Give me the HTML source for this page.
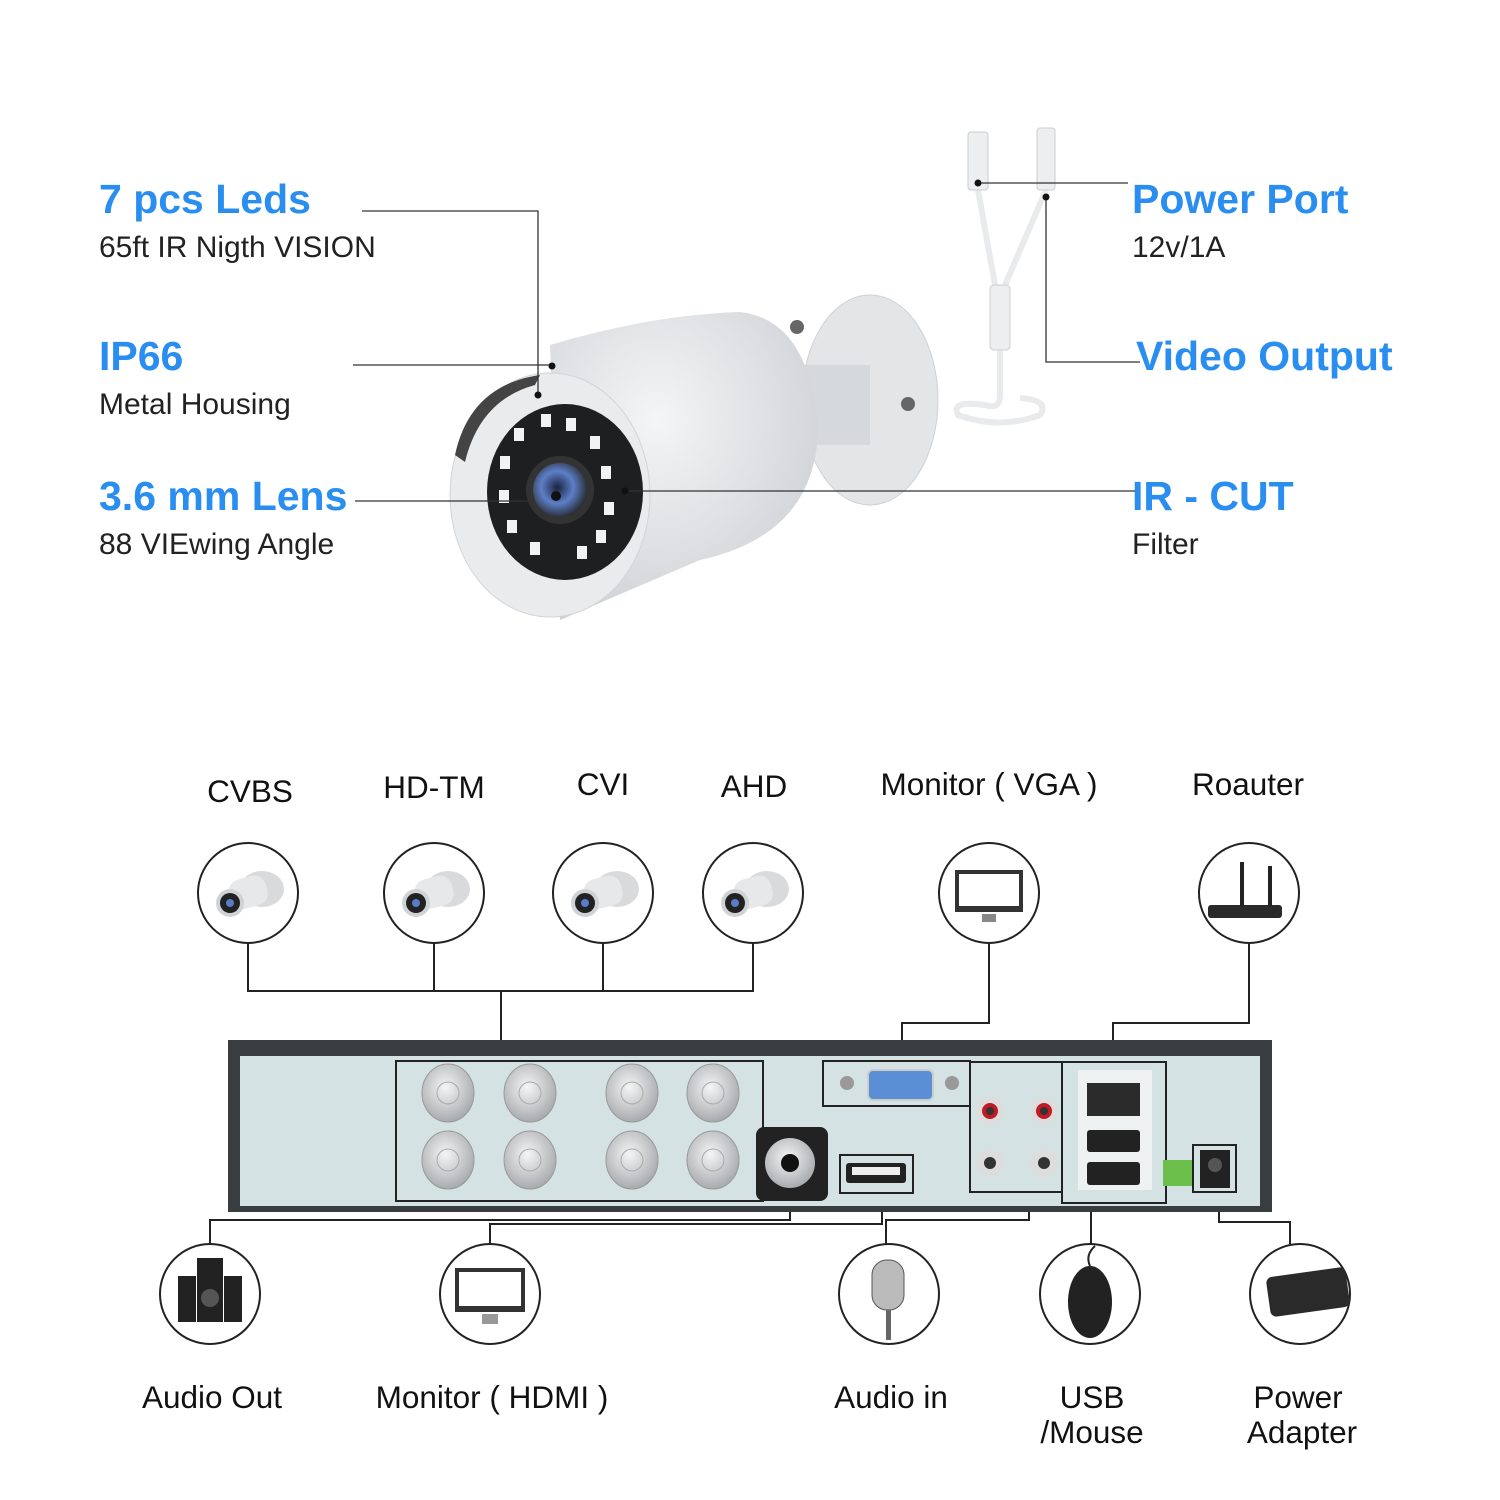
<!DOCTYPE html>
<html><head><meta charset="utf-8"><style>
html,body{margin:0;padding:0;background:#fff}
svg{display:block}
text{font-family:"Liberation Sans",Arial,sans-serif}
.h{fill:#2a8ef0;font-weight:bold;font-size:41px}
.s{fill:#222;font-size:30px}
.l{fill:#111;font-size:31.5px}
</style></head><body>
<svg width="1500" height="1500" viewBox="0 0 1500 1500" xmlns="http://www.w3.org/2000/svg">
<defs>
<radialGradient id="body" cx="0.4" cy="0.35" r="0.8"><stop offset="0" stop-color="#f4f5f6"/><stop offset="1" stop-color="#c9ccd0"/></radialGradient>
<radialGradient id="lens" cx="0.45" cy="0.45" r="0.6"><stop offset="0" stop-color="#1b2340"/><stop offset="0.5" stop-color="#5d7fc8"/><stop offset="1" stop-color="#222"/></radialGradient>
<radialGradient id="bnc" cx="0.45" cy="0.4" r="0.6"><stop offset="0" stop-color="#f5f5f5"/><stop offset="1" stop-color="#a8abae"/></radialGradient>
<g id="cam">
<ellipse cx="12" cy="-6" rx="22" ry="18" fill="#d8dadc"/>
<rect x="-20" y="-18" width="38" height="30" rx="12" fill="#e6e8ea" transform="rotate(-15)"/>
<circle cx="-20" cy="8" r="14" fill="#d0d3d6"/>
<circle cx="-20" cy="8" r="10" fill="#222"/>
<circle cx="-20" cy="8" r="4" fill="#5a7cc8"/>
</g>
</defs>

<text class="h" x="99" y="213">7 pcs Leds</text>
<text class="s" x="99" y="257">65ft IR Nigth VISION</text>
<text class="h" x="99" y="370">IP66</text>
<text class="s" x="99" y="414">Metal Housing</text>
<text class="h" x="99" y="510">3.6 mm Lens</text>
<text class="s" x="99" y="554">88 VIEwing Angle</text>
<text class="h" x="1132" y="213">Power Port</text>
<text class="s" x="1132" y="257">12v/1A</text>
<text class="h" x="1136" y="370">Video Output</text>
<text class="h" x="1132" y="510">IR - CUT</text>
<text class="s" x="1132" y="554">Filter</text>

<g fill="none" stroke="#e8eaec" stroke-width="6">
<path d="M978 190 L995 285 L1000 340 L1000 395 Q1000 410 985 405 Q950 400 958 415 Q1000 430 1040 415 Q1050 400 1020 398"/>
<path d="M1046 190 L1005 285"/>
</g>
<rect x="968" y="132" width="20" height="58" rx="3" fill="#eceeef" stroke="#ccc"/>
<rect x="1037" y="128" width="18" height="62" rx="3" fill="#eceeef" stroke="#ccc"/>
<rect x="990" y="285" width="20" height="65" rx="4" fill="#eceeef" stroke="#ccc"/>

<ellipse cx="870" cy="400" rx="68" ry="105" fill="#e3e5e7" stroke="#cfd2d5"/>
<rect x="800" y="365" width="70" height="80" fill="#d6d9dc"/>
<circle cx="797" cy="327" r="7" fill="#666"/>
<circle cx="908" cy="404" r="7" fill="#666"/>
<path d="M550 345 Q650 315 740 312 Q810 320 818 430 Q815 535 700 560 L560 620 Z" fill="url(#body)"/>
<ellipse cx="550" cy="495" rx="100" ry="122" fill="#e9ebed" stroke="#d2d5d8"/>
<path d="M455 455 Q470 385 540 375 L535 385 Q480 400 465 462 Z" fill="#444"/>
<ellipse cx="565" cy="492" rx="78" ry="88" fill="#1e1f21"/>
<circle cx="560" cy="490" r="34" fill="#333"/>
<circle cx="560" cy="490" r="27" fill="url(#lens)"/>
<circle cx="556" cy="496" r="5" fill="#111"/>
<g fill="#f2f2f2">
<rect x="541" y="414" width="10" height="13"/><rect x="566" y="418" width="10" height="13"/>
<rect x="514" y="428" width="10" height="13"/><rect x="590" y="436" width="10" height="13"/>
<rect x="500" y="456" width="10" height="13"/><rect x="601" y="466" width="10" height="13"/>
<rect x="499" y="490" width="10" height="13"/><rect x="604" y="502" width="10" height="13"/>
<rect x="507" y="520" width="10" height="13"/><rect x="596" y="530" width="10" height="13"/>
<rect x="530" y="542" width="10" height="13"/><rect x="577" y="546" width="10" height="13"/>
</g>

<g stroke="#333" stroke-width="1.3" fill="none">
<path d="M362 211 H538 V395"/>
<path d="M353 365 H552"/>
<path d="M355 501 H530"/>
<path d="M625 491 H1135"/>
<path d="M978 183 H1128"/>
<path d="M1046 197 V362 H1140"/>
</g>
<g fill="#111"><circle cx="538" cy="395" r="3.5"/><circle cx="552" cy="366" r="3.5"/><circle cx="625" cy="491" r="3.5"/><circle cx="978" cy="183" r="3.5"/><circle cx="1046" cy="197" r="3.5"/></g>

<text class="l" x="250" y="802" text-anchor="middle">CVBS</text>
<text class="l" x="434" y="798" text-anchor="middle">HD-TM</text>
<text class="l" x="603" y="795" text-anchor="middle">CVI</text>
<text class="l" x="754" y="797" text-anchor="middle">AHD</text>
<text class="l" x="989" y="795" text-anchor="middle">Monitor ( VGA )</text>
<text class="l" x="1248" y="795" text-anchor="middle">Roauter</text>

<g stroke="#222" stroke-width="2" fill="none">
<path d="M248 943 V991 H753 V943"/><path d="M434 943 V991"/><path d="M603 943 V991"/>
<path d="M501 991 V1060"/>
<path d="M989 943 V1023 H902 V1068"/>
<path d="M1249 943 V1023 H1113 V1062"/>
<path d="M790 1201 V1220 H210 V1244"/>
<path d="M882 1193 V1224 H490 V1244"/>
<path d="M1029 1192 V1220 H886 V1244"/>
<path d="M1091 1203 V1244"/>
<path d="M1219 1192 V1222 H1290 V1244"/>
</g>

<g fill="#fff" stroke="#222" stroke-width="2">
<circle cx="248" cy="893" r="50"/><circle cx="434" cy="893" r="50"/><circle cx="603" cy="893" r="50"/><circle cx="753" cy="893" r="50"/><circle cx="989" cy="893" r="50"/><circle cx="1249" cy="893" r="50"/>
<circle cx="210" cy="1294" r="50"/><circle cx="490" cy="1294" r="50"/><circle cx="889" cy="1294" r="50"/><circle cx="1090" cy="1294" r="50"/><circle cx="1300" cy="1294" r="50"/>
</g>
<use href="#cam" x="250" y="895"/><use href="#cam" x="436" y="895"/><use href="#cam" x="605" y="895"/><use href="#cam" x="755" y="895"/>
<rect x="955" y="870" width="68" height="42" fill="#333"/><rect x="959" y="874" width="60" height="32" fill="#fff"/><rect x="982" y="914" width="14" height="8" fill="#888"/>
<rect x="1208" y="905" width="74" height="13" rx="3" fill="#2a2a2a"/><rect x="1240" y="862" width="4" height="44" fill="#222"/><rect x="1268" y="866" width="4" height="40" fill="#222"/>
<g fill="#222"><rect x="178" y="1276" width="18" height="46"/><rect x="224" y="1276" width="18" height="46"/><rect x="197" y="1258" width="26" height="64"/><circle cx="210" cy="1298" r="9" fill="#555"/></g>
<rect x="455" y="1268" width="70" height="44" fill="#333"/><rect x="459" y="1272" width="62" height="34" fill="#fff"/><rect x="482" y="1314" width="16" height="10" fill="#999"/>
<rect x="872" y="1260" width="32" height="50" rx="15" fill="#bbb" stroke="#555"/><rect x="886" y="1310" width="5" height="30" fill="#666"/>
<ellipse cx="1090" cy="1302" rx="22" ry="36" fill="#222"/><path d="M1090 1266 Q1085 1255 1095 1246" stroke="#222" fill="none" stroke-width="2"/>
<rect x="1268" y="1272" width="80" height="40" rx="6" fill="#2a2a2a" transform="rotate(-8 1308 1292)"/>

<path d="M228 1040 H1272 V1212 H228 Z" fill="#3a3d40"/>
<path d="M240 1056 H1260 V1206 H240 Z" fill="#d4e2e3"/>
<g fill="none" stroke="#222" stroke-width="2">
<rect x="396" y="1061" width="367" height="140"/>
<rect x="823" y="1061" width="147" height="45"/>
<rect x="970" y="1062" width="92" height="130"/>
<rect x="1062" y="1062" width="104" height="141"/>
<rect x="840" y="1155" width="73" height="38"/>
<rect x="1193" y="1145" width="43" height="47"/>
</g>
<g fill="url(#bnc)" stroke="#999">
<ellipse cx="448" cy="1093" rx="26" ry="29"/><ellipse cx="530" cy="1093" rx="26" ry="29"/><ellipse cx="632" cy="1093" rx="26" ry="29"/><ellipse cx="713" cy="1093" rx="26" ry="29"/>
<ellipse cx="448" cy="1160" rx="26" ry="29"/><ellipse cx="530" cy="1160" rx="26" ry="29"/><ellipse cx="632" cy="1160" rx="26" ry="29"/><ellipse cx="713" cy="1160" rx="26" ry="29"/>
</g>
<g fill="none" stroke="#aaa"><circle cx="448" cy="1093" r="11"/><circle cx="530" cy="1093" r="11"/><circle cx="632" cy="1093" r="11"/><circle cx="713" cy="1093" r="11"/><circle cx="448" cy="1160" r="11"/><circle cx="530" cy="1160" r="11"/><circle cx="632" cy="1160" r="11"/><circle cx="713" cy="1160" r="11"/></g>
<rect x="756" y="1127" width="72" height="74" rx="8" fill="#222"/>
<circle cx="790" cy="1163" r="25" fill="url(#bnc)"/><circle cx="790" cy="1163" r="9" fill="#111"/>
<rect x="846" y="1163" width="60" height="20" rx="3" fill="#222"/><rect x="852" y="1167" width="48" height="8" fill="#eee"/>
<rect x="868" y="1070" width="65" height="30" rx="5" fill="#5a8fd6" stroke="#ccc" stroke-width="2"/>
<circle cx="847" cy="1083" r="7" fill="#999"/><circle cx="952" cy="1083" r="7" fill="#999"/>
<g fill="#ddd"><circle cx="990" cy="1111" r="14"/><circle cx="1044" cy="1111" r="14"/><circle cx="990" cy="1163" r="14"/><circle cx="1044" cy="1163" r="14"/></g>
<g fill="#c01a25"><circle cx="990" cy="1111" r="8"/><circle cx="1044" cy="1111" r="8"/></g>
<g fill="#333"><circle cx="990" cy="1111" r="4"/><circle cx="1044" cy="1111" r="4"/><circle cx="990" cy="1163" r="6"/><circle cx="1044" cy="1163" r="6"/></g>
<rect x="1078" y="1070" width="74" height="120" fill="#eef1f2"/>
<rect x="1087" y="1083" width="53" height="33" fill="#2b2b2b"/>
<rect x="1087" y="1130" width="53" height="22" rx="3" fill="#222"/>
<rect x="1087" y="1162" width="53" height="23" rx="3" fill="#222"/>
<rect x="1163" y="1160" width="29" height="26" fill="#6cbf4a"/>
<rect x="1200" y="1150" width="30" height="38" fill="#222"/><circle cx="1215" cy="1165" r="7" fill="#555"/>

<text class="l" x="212" y="1408" text-anchor="middle">Audio Out</text>
<text class="l" x="492" y="1408" text-anchor="middle">Monitor ( HDMI )</text>
<text class="l" x="891" y="1408" text-anchor="middle">Audio in</text>
<text class="l" x="1092" y="1408" text-anchor="middle">USB</text>
<text class="l" x="1092" y="1443" text-anchor="middle">/Mouse</text>
<text class="l" x="1298" y="1408" text-anchor="middle">Power</text>
<text class="l" x="1302" y="1443" text-anchor="middle">Adapter</text>
</svg>
</body></html>
